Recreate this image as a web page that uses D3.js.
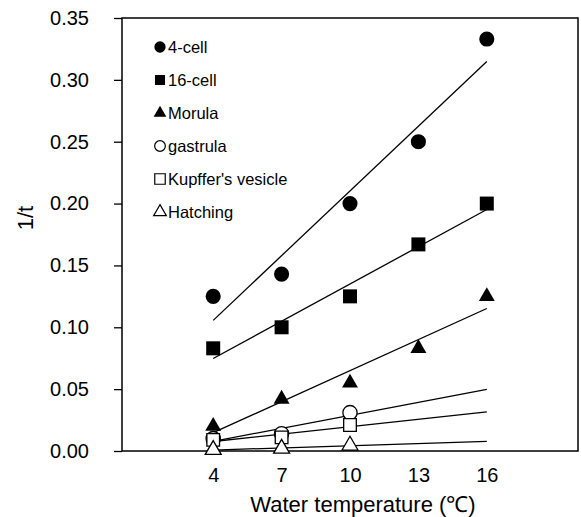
<!DOCTYPE html>
<html>
<head>
<meta charset="utf-8">
<script src="https://cdn.jsdelivr.net/npm/d3@7"></script>
<style>
body { margin: 0; background: #fff; }
text { font-family: "Liberation Sans", Arial, sans-serif; }
</style>
</head>
<body>
<script>
// temperatures (x) and 1/t values per stage
var temps = [4, 7, 10, 13, 16];
var stages = ["4-cell", "16-cell", "Morula", "gastrula", "Kupffer's vesicle", "Hatching"];
var cell4 = [0.125, 0.143, 0.200, 0.250, 0.333];
var cell16 = [0.083, 0.100, 0.125, 0.167, 0.200];
var morula = [0.020, 0.042, 0.055, 0.083, 0.125];
var gastrula = [0.010, 0.014, 0.031];
var kupffer = [0.009, 0.011, 0.021];
var hatching = [0.001, 0.002, 0.0045];
var yTicks = [0, 0.05, 0.10, 0.15, 0.20, 0.25, 0.30, 0.35];
var xTicks = [4, 7, 10, 13, 16];

var seriesVals = [cell4, cell16, morula, gastrula, kupffer, hatching];
var symbols = [d3.symbolCircle, d3.symbolSquare, d3.symbolTriangle, d3.symbolCircle, d3.symbolSquare, d3.symbolTriangle];
var filled = [true, true, true, false, false, false];
var plotSize = [180, 196, 110, 160, 160, 110];
var legSize = [100, 100, 70, 90, 110, 70];

var W = 581, H = 517;
var m = {left: 122, right: 3, top: 18, bottom: 66};

var svg = d3.select("body").append("svg")
	.attr("width", W)
	.attr("height", H);

var x = d3.scaleLinear().domain([0, 20]).range([m.left, W - m.right]);
var y = d3.scaleLinear().domain([0, 0.35]).range([H - m.bottom, m.top]);

// frame
svg.append("rect")
	.attr("x", x(0)).attr("y", y(0.35))
	.attr("width", x(20) - x(0)).attr("height", y(0) - y(0.35))
	.attr("fill", "none").attr("stroke", "#000").attr("stroke-width", 1.5);

var yAxis = svg.append("g")
	.attr("transform", "translate(" + x(0) + ",0)")
	.call(d3.axisLeft(y).tickValues(yTicks).tickFormat(d3.format(".2f")).tickSize(8).tickPadding(25));
yAxis.select(".domain").remove();
yAxis.selectAll("line").attr("stroke-width", 1.3);
yAxis.selectAll("text").attr("font-size", 20).attr("fill", "#000")
	.style("font-family", "Liberation Sans, Arial, sans-serif");

var xAxis = svg.append("g")
	.attr("transform", "translate(0," + y(0) + ")")
	.call(d3.axisBottom(x).tickValues(xTicks).tickSize(0).tickPadding(17));
xAxis.select(".domain").remove();
xAxis.selectAll("text").attr("font-size", 20).attr("fill", "#000")
	.style("font-family", "Liberation Sans, Arial, sans-serif");

svg.append("text")
	.attr("x", 363).attr("y", 512)
	.attr("text-anchor", "middle")
	.attr("font-size", 22)
	.text("Water temperature (℃)");

svg.append("text")
	.attr("transform", "translate(33,218) rotate(-90)")
	.attr("text-anchor", "middle")
	.attr("font-size", 22)
	.text("1/t");

// least squares fit lines, drawn from 4 to 16
function fit(vals) {
	var xs = temps.slice(0, vals.length);
	var mx = d3.mean(xs), my = d3.mean(vals);
	var sxy = d3.sum(xs, function(d, i) { return (d - mx) * (vals[i] - my); });
	var sxx = d3.sum(xs, function(d) { return (d - mx) * (d - mx); });
	var b = sxy / sxx;
	return function(t) { return my + b * (t - mx); };
}

seriesVals.forEach(function(vals) {
	var f = fit(vals);
	svg.append("line")
		.attr("x1", x(4)).attr("y1", y(f(4)))
		.attr("x2", x(16)).attr("y2", y(f(16)))
		.attr("stroke", "#000").attr("stroke-width", 1.3);
});

seriesVals.forEach(function(vals, s) {
	svg.append("g").selectAll("path")
		.data(vals)
		.enter().append("path")
		.attr("transform", function(d, i) { return "translate(" + x(temps[i]) + "," + y(d) + ")"; })
		.attr("d", d3.symbol().type(symbols[s]).size(plotSize[s]))
		.attr("fill", filled[s] ? "#000" : "#fff")
		.attr("stroke", "#000")
		.attr("stroke-width", filled[s] ? 0 : 1.3);
});

// legend
var leg = svg.append("g").selectAll("g")
	.data(stages)
	.enter().append("g")
	.attr("transform", function(d, i) { return "translate(160," + (47 + i * 33) + ")"; });
leg.append("path")
	.attr("d", function(d, i) { return d3.symbol().type(symbols[i]).size(legSize[i])(); })
	.attr("fill", function(d, i) { return filled[i] ? "#000" : "#fff"; })
	.attr("stroke", "#000")
	.attr("stroke-width", function(d, i) { return filled[i] ? 0 : 1.2; });
leg.append("text")
	.attr("x", 8).attr("y", 6)
	.attr("font-size", 16.5)
	.text(function(d) { return d; });
</script>
</body>
</html>
